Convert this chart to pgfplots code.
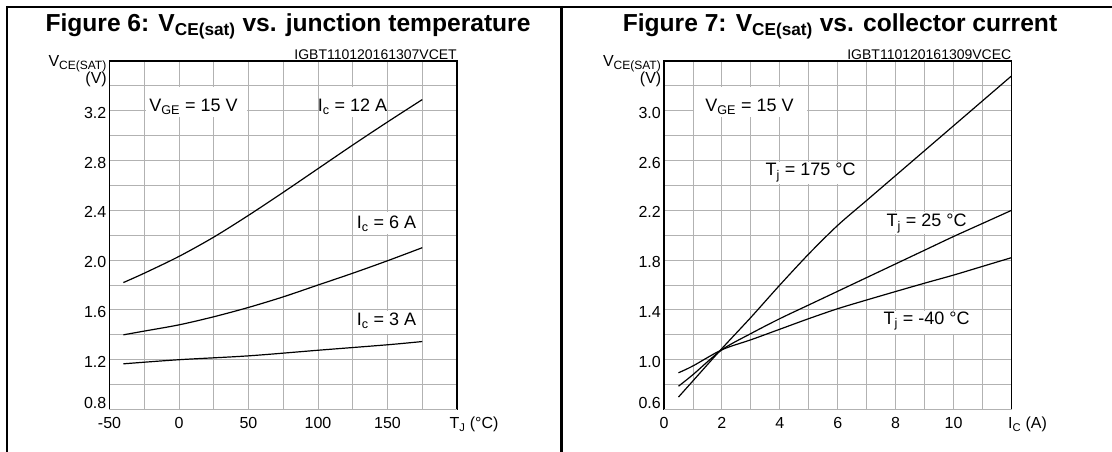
\documentclass[border=0pt]{standalone}
\usepackage{fontspec}
\setmainfont{Liberation Sans}
\usepackage{pgfplots}
\pgfplotsset{compat=1.18}

\newcommand\sub[1]{\textsubscript{#1}}
\newcommand\bsub[1]{\textsubscript{\fontsize{12}{12}\selectfont #1}}
\newcommand\tickfont{\fontsize{16}{19}\selectfont}
\newcommand\notefont{\fontsize{18}{21}\selectfont}

\pgfplotsset{
  ds/.style={
    scale only axis, width=347.5pt, height=348.5pt,
    axis line style={line width=1.2pt},
    grid=both,
    major grid style={black!30, line width=0.9pt},
    minor grid style={black!30, line width=0.9pt},
    major tick length=0pt, minor tick length=0pt,
    tick label style={font=\tickfont, inner sep=0pt},
    xticklabel style={anchor=north, yshift=-7.5pt},
    yticklabel style={anchor=east, xshift=-3pt, yshift=-2pt},
    extra y tick style={yticklabel style={anchor=south east, yshift=2.5pt}},
    clip=false,
  },
  curve/.style={black, line width=1.2pt, smooth, no markers},
}

\begin{document}
\begin{tikzpicture}
\useasboundingbox (0,0) rectangle (1112pt,452pt);

% frame
\draw[line width=2.5pt] (7pt,445pt) -- (1112pt,445pt);
\draw[line width=2.6pt] (7pt,446pt) -- (7pt,0pt);
\draw[line width=2.6pt] (561.7pt,446pt) -- (561.7pt,0pt);

\node[anchor=base, font=\bfseries\fontsize{24.6}{28}\selectfont] at (288pt,420pt)
  {Figure 6: V\sub{CE(sat)} vs. junction temperature};
\node[anchor=base, font=\bfseries\fontsize{24.6}{28}\selectfont] at (840pt,420pt)
  {Figure 7: V\sub{CE(sat)} vs. collector current};

% Figure 6
\begin{axis}[ds, at={(109.5pt,42.5pt)}, anchor=south west,
  xmin=-50, xmax=200, ymin=0.8, ymax=3.6,
  xtick={-50,0,50,100,150,200},
  xticklabels={-50,0,50,100,150,\hspace*{34pt}T\sub{J} (°C)},
  minor xtick={-25,25,75,125,175},
  ytick={1.2,1.6,2.0,2.4,2.8,3.2},
  yticklabels={1.2,1.6,2.0,2.4,2.8,3.2},
  minor ytick={1.0,1.4,1.8,2.2,2.6,3.0,3.4},
  extra y ticks={0.8}, extra y tick labels={0.8},
]
\fill[white] (axis cs:-24,3.39) rectangle (axis cs:49,3.15);
\fill[white] (axis cs:101,3.39) rectangle (axis cs:149,3.15);
\fill[white] (axis cs:126,2.39) rectangle (axis cs:174,2.21);
\fill[white] (axis cs:126,1.59) rectangle (axis cs:174,1.41);

\addplot[curve] coordinates {
  (-40,1.82) (-25,1.895) (0,2.03) (25,2.185) (50,2.36) (75,2.545)
  (100,2.735) (125,2.925) (150,3.11) (175,3.29)
};
\addplot[curve] coordinates {
  (-40,1.40) (-25,1.43) (0,1.48) (25,1.545) (50,1.62) (75,1.705)
  (100,1.80) (125,1.895) (150,1.995) (175,2.10)
};
\addplot[curve] coordinates {
  (-40,1.167) (0,1.20) (50,1.231) (100,1.276) (150,1.32) (175,1.346)
};

\node[font=\notefont] at (axis cs:10.4,3.234) {V\sub{GE} = 15 V};
\node[font=\notefont] at (axis cs:124.8,3.234) {I\sub{c} = 12 A};
\node[font=\notefont] at (axis cs:149.3,2.294) {I\sub{c} = 6 A};
\node[font=\notefont] at (axis cs:149.3,1.511) {I\sub{c} = 3 A};

\node[anchor=south east, inner sep=0pt, font=\fontsize{14}{16}\selectfont]
  at (rel axis cs:1,1) [yshift=1pt] {IGBT110120161307VCET};
\node[anchor=base east, inner sep=0pt, font=\tickfont, xshift=-2.5pt, yshift=-6pt]
  at (rel axis cs:0,1) {V\bsub{CE(SAT)}};
\node[anchor=base east, inner sep=0pt, font=\tickfont, xshift=-2.5pt, yshift=-22.6pt]
  at (rel axis cs:0,1) {(V)};
\end{axis}

% Figure 7
\begin{axis}[ds, at={(664pt,42.5pt)}, anchor=south west,
  xmin=0, xmax=12, ymin=0.6, ymax=3.4,
  xtick={0,2,4,6,8,10,12},
  xticklabels={0,2,4,6,8,10,\hspace*{32pt}I\sub{C} (A)},
  minor xtick={1,3,5,7,9,11},
  ytick={1.0,1.4,1.8,2.2,2.6,3.0},
  yticklabels={1.0,1.4,1.8,2.2,2.6,3.0},
  minor ytick={0.8,1.2,1.6,2.0,2.4,2.8,3.2},
  extra y ticks={0.6}, extra y tick labels={0.6},
]
\fill[white] (axis cs:1.05,3.19) rectangle (axis cs:4.95,2.95);
\fill[white] (axis cs:3.35,2.59) rectangle (axis cs:6.8,2.41);
\fill[white] (axis cs:7.45,2.19) rectangle (axis cs:10.65,2.01);
\fill[white] (axis cs:7.35,1.39) rectangle (axis cs:10.75,1.21);

\addplot[curve] coordinates {
  (0.5,0.70) (1,0.83) (2,1.09) (3,1.34) (4,1.60) (5,1.85) (6,2.08)
  (7,2.28) (8,2.48) (9,2.68) (10,2.88) (11,3.08) (12,3.28)
};
\addplot[curve] coordinates {
  (0.5,0.787) (1,0.88) (2,1.08) (3,1.21) (4,1.33) (5,1.44) (6,1.55)
  (7,1.66) (8,1.77) (9,1.88) (10,1.99) (11,2.095) (12,2.20)
};
\addplot[curve] coordinates {
  (0.5,0.895) (1,0.95) (2,1.08) (3,1.16) (4,1.245) (5,1.33) (6,1.41)
  (7,1.48) (8,1.548) (9,1.615) (10,1.68) (11,1.75) (12,1.82)
};

\node[font=\notefont] at (axis cs:2.95,3.034) {V\sub{GE} = 15 V};
\node[font=\notefont] at (axis cs:5.06,2.504) {T\sub{j} = 175 °C};
\node[font=\notefont] at (axis cs:9.07,2.094) {T\sub{j} = 25 °C};
\node[font=\notefont] at (axis cs:9.07,1.311) {T\sub{j} = -40 °C};

\node[anchor=south east, inner sep=0pt, font=\fontsize{14}{16}\selectfont]
  at (rel axis cs:1,1) [yshift=1pt] {IGBT110120161309VCEC};
\node[anchor=base east, inner sep=0pt, font=\tickfont, xshift=-2.5pt, yshift=-6pt]
  at (rel axis cs:0,1) {V\bsub{CE(SAT)}};
\node[anchor=base east, inner sep=0pt, font=\tickfont, xshift=-2.5pt, yshift=-22.6pt]
  at (rel axis cs:0,1) {(V)};
\end{axis}
\end{tikzpicture}
\end{document}
